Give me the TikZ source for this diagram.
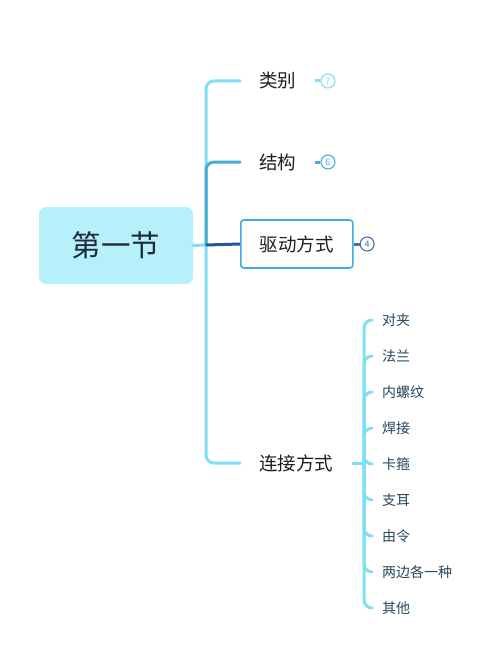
\documentclass[tikz,border=0pt]{standalone}
\usepackage{fontspec}
\setmainfont{Noto Sans CJK SC}
\usetikzlibrary{positioning}
\begin{document}
\begin{tikzpicture}[x=1pt,y=-1pt,
    topic/.style={anchor=west, minimum height=48pt, inner xsep=19pt, font=\fontsize{18.5}{21}\selectfont, text=mytext},
    subtopic/.style={anchor=west, inner xsep=10pt, inner ysep=2pt, font=\fontsize{14}{16}\selectfont, text=mysub},
    badge/.style={circle, draw=#1, line width=1.1pt, minimum size=14pt, inner sep=0pt, text=#1, font=\fontsize{9}{9}\selectfont},
    link/.style={line width=3pt, rounded corners=8pt, line cap=round}]
    \definecolor{mytext}{RGB}{30,30,30}
    \definecolor{mysub}{RGB}{40,70,90}
    \definecolor{mytrunk}{RGB}{128,222,245}
    \definecolor{mymid}{RGB}{72,170,215}
    \definecolor{mydark}{RGB}{32,88,160}
    \definecolor{mybox}{RGB}{62,170,232}
    \definecolor{myroot}{RGB}{181,240,251}

    \useasboundingbox (0,0) rectangle (487,650);

    % root
    \node[fill=myroot, rounded corners=7pt, minimum width=154pt, minimum height=77pt,
          font=\fontsize{29.5}{33}\selectfont, text=mytext!80!mydark] (root) at (116,245.5) {第一节};
    \coordinate (trunk) at (206,245);

    % main topics
    \node[topic] (cat) at (240,81) {类别};
    \node[topic] (struc) at (240,162) {结构};
    \node[topic, draw=mybox, line width=1.6pt, rounded corners=3pt] (drive) at (240,244) {驱动方式};
    \node[topic] (conn) at (240,463) {连接方式};

    \draw[link, mytrunk] (root.east) -- (trunk);
    \draw[link, mytrunk] (trunk) |- (cat.west);
    \draw[link, mytrunk] (trunk) |- (conn.west);
    \draw[link, mymid] (trunk) |- (struc.west);
    \draw[link, mydark, line cap=butt] (trunk) -- (drive.west);

    % counters
    \node[badge=mytrunk, right=5pt of cat] (n7) {7};
    \node[badge=mymid, right=5pt of struc] (n6) {6};
    \node[badge=mydark!85, right=6pt of drive] (n4) {4};
    \draw[mytrunk, line width=3pt] (cat.east) -- (n7.west);
    \draw[mymid, line width=3pt] (struc.east) -- (n6.west);
    \draw[mydark!85, line width=3pt] (drive.east) -- (n4.west);

    % connection types
    \coordinate (fork) at (364,463);
    \draw[link, mytrunk, line cap=butt] (conn.east) -- (fork);
    \foreach \name [count=\i] in {对夹,法兰,内螺纹,焊接,卡箍,支耳,由令,两边各一种,其他} {
        \node[subtopic] (c\i) at (372,284+36*\i) {\name};
        \draw[link, mytrunk] (fork) |- (c\i.west);
    }
\end{tikzpicture}
\end{document}
